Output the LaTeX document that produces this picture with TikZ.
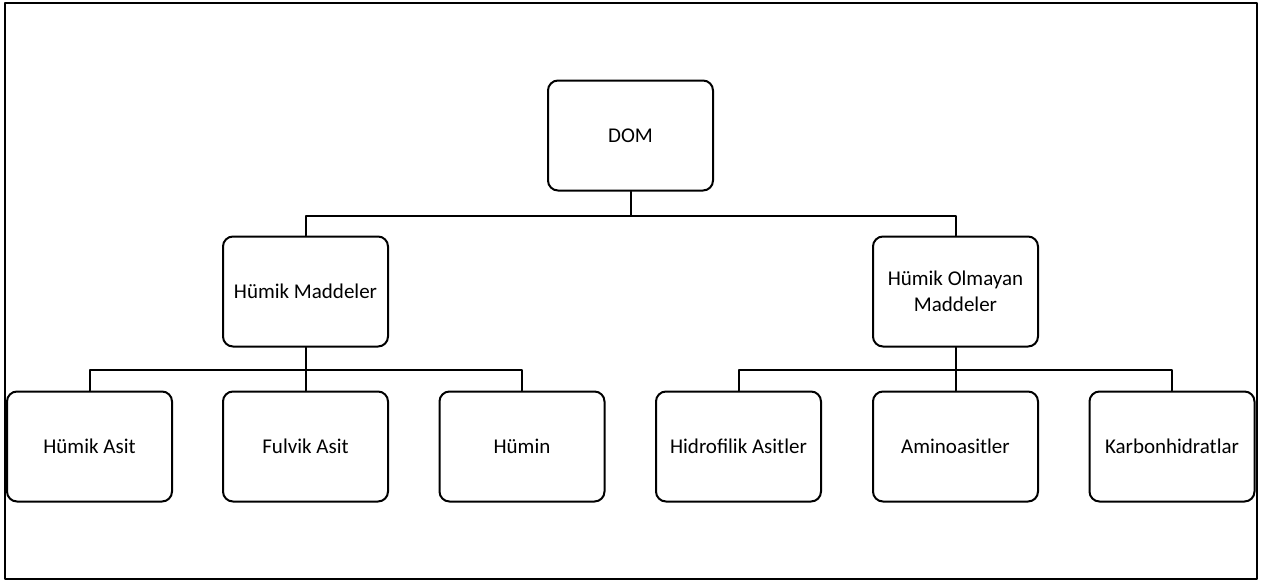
\documentclass[tikz,border=0pt]{standalone}
\usepackage{fontspec}
\setmainfont{Carlito}
\usetikzlibrary{positioning}

\begin{document}
\begin{tikzpicture}[x=1pt,y=-1pt,line width=2pt,line cap=round,line join=round]
\useasboundingbox (0,0) rectangle (1264,581);
\draw [line width=2.4pt] (5,3) rectangle (1257,579);
\tikzset{box/.style={draw,rounded corners=10pt,minimum width=165pt,minimum height=110pt,
  align=center,font=\fontsize{21}{26}\selectfont,inner sep=2pt}}
%% top
\node[box] (dom) at (630.5,135.5) {DOM};
\node[box] (hm) at (305.5,291.5) {Hümik Maddeler};
\node[box] (hom) at (955.5,291.5) {Hümik Olmayan\\Maddeler};
%% bottom row
\node[box] (ha) at (89.5,446.5) {Hümik Asit};
\node[box] (fa) at (305.5,446.5) {Fulvik Asit};
\node[box] (hu) at (522,446.5) {Hümin};
\node[box] (hid) at (738.5,446.5) {Hidrofilik Asitler};
\node[box] (am) at (955.5,446.5) {Aminoasitler};
\node[box] (kh) at (1172,446.5) {Karbonhidratlar};
%% connectors
\draw (dom.south) -- ++(0,24) coordinate (b1);
\draw (hm.north) |- (b1) -| (hom.north);
\draw (hm.south) -- ++(0,22) coordinate (b2);
\draw (ha.north) |- (b2) -| (hu.north);
\draw (b2) -- (fa.north);
\draw (hom.south) -- ++(0,22) coordinate (b3);
\draw (hid.north) |- (b3) -| (kh.north);
\draw (b3) -- (am.north);
\end{tikzpicture}
\end{document}
